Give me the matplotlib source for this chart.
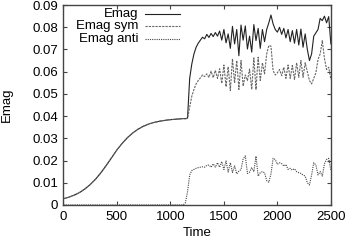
from matplotlib import pyplot as plt
import numpy as np

# ---------------- data ----------------
time_smooth = [0, 50, 100, 150, 200, 250, 300, 350, 400, 450, 500, 550,
               600, 650, 700, 750, 800, 850, 900, 950, 1000, 1050, 1100]
emag_smooth = [0.0028, 0.0035, 0.0044, 0.0056, 0.0072, 0.0092, 0.0116,
               0.0145, 0.0178, 0.0213, 0.0248, 0.0278, 0.0304, 0.0325,
               0.0342, 0.0355, 0.0365, 0.0372, 0.0377, 0.0381, 0.0384,
               0.0386, 0.0388]

time_noisy = [1120, 1140, 1160, 1180, 1200, 1220, 1240, 1260, 1280, 1300,
              1320, 1340, 1360, 1380, 1400, 1420, 1440, 1460, 1480, 1500,
              1520, 1540, 1560, 1580, 1600, 1620, 1640, 1660, 1680, 1700,
              1720, 1740, 1760, 1780, 1800, 1820, 1840, 1860, 1880, 1900,
              1920, 1940, 1960, 1980, 2000, 2020, 2040, 2060, 2080, 2100,
              2120, 2140, 2160, 2180, 2200, 2220, 2240, 2260, 2280, 2300,
              2320, 2340, 2360, 2380, 2400, 2420, 2440, 2460, 2480, 2500]
emag_noisy = [0.0389, 0.0388, 0.0392, 0.0570, 0.0635, 0.0680, 0.0710,
              0.0728, 0.0742, 0.0755, 0.0748, 0.0768, 0.0754, 0.0772,
              0.0758, 0.0776, 0.0760, 0.0783, 0.0742, 0.0790, 0.0730,
              0.0770, 0.0705, 0.0804, 0.0725, 0.0790, 0.0672, 0.0810,
              0.0742, 0.0806, 0.0702, 0.0760, 0.0688, 0.0812, 0.0740,
              0.0795, 0.0705, 0.0790, 0.0735, 0.0790, 0.0820, 0.0855,
              0.0815, 0.0790, 0.0778, 0.0800, 0.0768, 0.0795, 0.0752,
              0.0790, 0.0735, 0.0785, 0.0728, 0.0790, 0.0720, 0.0792,
              0.0710, 0.0770, 0.0700, 0.0650, 0.0680, 0.0760, 0.0775,
              0.0790, 0.0840, 0.0830, 0.0850, 0.0820, 0.0848, 0.0725]
sym_noisy = [0.0389, 0.0388, 0.0390, 0.0440, 0.0490, 0.0520, 0.0545,
             0.0560, 0.0572, 0.0585, 0.0578, 0.0590, 0.0574, 0.0602,
             0.0573, 0.0606, 0.0570, 0.0613, 0.0547, 0.0630, 0.0532,
             0.0622, 0.0515, 0.0658, 0.0549, 0.0650, 0.0520, 0.0650,
             0.0535, 0.0585, 0.0560, 0.0612, 0.0520, 0.0662, 0.0520,
             0.0665, 0.0560, 0.0640, 0.0590, 0.0680, 0.0718, 0.0715,
             0.0605, 0.0585, 0.0595, 0.0610, 0.0582, 0.0620, 0.0570,
             0.0630, 0.0570, 0.0628, 0.0565, 0.0640, 0.0575, 0.0650,
             0.0575, 0.0640, 0.0600, 0.0560, 0.0545, 0.0570, 0.0595,
             0.0655, 0.0680, 0.0740, 0.0660, 0.0610, 0.0620, 0.0565]
anti_noisy = [0.0000, 0.0010, 0.0060, 0.0135, 0.0155, 0.0160, 0.0165,
              0.0168, 0.0170, 0.0172, 0.0170, 0.0178, 0.0180, 0.0170,
              0.0185, 0.0170, 0.0190, 0.0170, 0.0195, 0.0160, 0.0198,
              0.0148, 0.0190, 0.0146, 0.0176, 0.0140, 0.0152, 0.0160,
              0.0207, 0.0221, 0.0142, 0.0148, 0.0168, 0.0150, 0.0220,
              0.0130, 0.0145, 0.0150, 0.0145, 0.0110, 0.0102, 0.0140,
              0.0210, 0.0205, 0.0183, 0.0190, 0.0186, 0.0175, 0.0182,
              0.0160, 0.0165, 0.0157, 0.0163, 0.0150, 0.0145, 0.0142,
              0.0135, 0.0130, 0.0100, 0.0090, 0.0135, 0.0190, 0.0180,
              0.0135, 0.0150, 0.0130, 0.0185, 0.0205, 0.0210, 0.0155]


def main():
    time = np.array(time_smooth + time_noisy)
    emag = np.array(emag_smooth + emag_noisy)
    emag_sym = np.array(emag_smooth + sym_noisy)
    emag_anti = np.array([0.0] * len(time_smooth) + anti_noisy)

    plt.rcParams["font.family"] = ["Liberation Sans", "DejaVu Sans"]
    Fontsize = 9.5
    fig = plt.figure(figsize=(3.45, 2.40), dpi=100)
    ax = fig.add_axes([0.184, 0.146, 0.775, 0.833])

    styles = [{"color": "#222222", "linewidth": 0.8, "linestyle": "-"},
              {"color": "#666666", "linewidth": 0.8,
               "linestyle": (0, (2.0, 1.0))},
              {"color": "#444444", "linewidth": 0.8,
               "linestyle": (0, (1.0, 1.0))}]
    names = ["Emag", "Emag sym", "Emag anti"]
    for ydata, st, nm in zip([emag, emag_sym, emag_anti], styles, names):
        ax.plot(time, ydata, label=nm, **st)

    ax.set_xlim(0, 2500)
    ax.set_ylim(0, 0.09)
    ax.set_xticks(np.arange(0, 2501, 500))
    ax.set_yticks(np.arange(0, 0.0901, 0.01))
    ax.set_yticklabels(["0"] + ["%.2f" % v for v in np.arange(0.01, 0.0901, 0.01)])
    ax.tick_params(direction="in", top=True, right=True, length=3,
                   width=0.8, color="#444444", labelsize=Fontsize, pad=4)
    for sp in ax.spines.values():
        sp.set_color("#444444")
        sp.set_linewidth(1.0)
    ax.set_xlabel("Time", fontsize=Fontsize, labelpad=3)
    ax.set_ylabel("Emag", fontsize=Fontsize, labelpad=14)

    # gnuplot style key: right aligned text, sample on the right
    key_y = [0.955, 0.893, 0.83]
    for ky, st, nm in zip(key_y, styles, names):
        ax.text(0.279, ky, nm, transform=ax.transAxes, ha="right",
                va="center", fontsize=Fontsize)
        ax.plot([0.305, 0.435], [ky, ky], transform=ax.transAxes, **st)

    fig.savefig("out.png", dpi=100)
    plt.close(fig)


if __name__ == '__main__':
    main()
